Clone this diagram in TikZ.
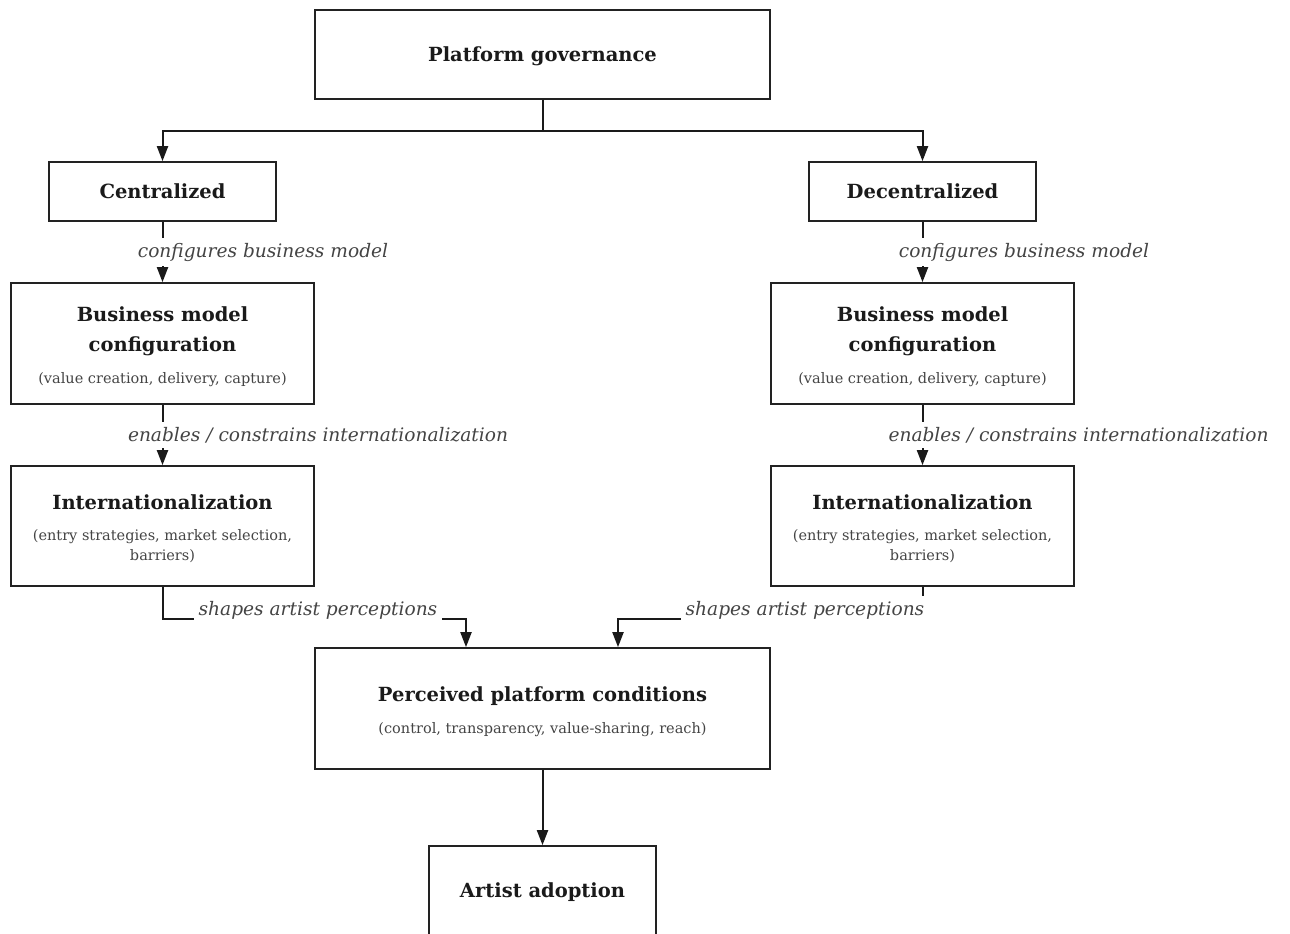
\documentclass[tikz,border=0pt]{standalone}
\usepackage{fontspec}
\setmainfont{DejaVu Serif}
\usetikzlibrary{arrows.meta}
\definecolor{boxline}{HTML}{222222}
\definecolor{txt}{HTML}{1A1A1A}
\definecolor{lbltxt}{HTML}{444444}
\newcommand{\ttl}{\fontsize{19.5}{30}\selectfont\bfseries}
\newcommand{\subt}{\fontsize{14.5}{20}\selectfont\mdseries\color{lbltxt}}
\newcommand{\topstrut}{\rule{0pt}{21pt}}
\begin{document}
\begin{tikzpicture}[x=1pt,y=-1pt,
  box/.style={draw=boxline, line width=1.7pt, fill=white, align=center, inner sep=0pt, text=txt, font=\ttl},
  onebox/.style={box, text depth=0pt},
  conn/.style={draw=txt, line width=2pt},
  arr/.style={conn, -{Triangle[width=11pt,length=15pt]}},
  lbl/.style={fill=white, inner sep=5pt, text=lbltxt, font=\fontsize{18.6}{22}\selectfont\itshape}
]
\useasboundingbox (0,0) rectangle (1290,934);
% nodes
\node[onebox, minimum width=455, minimum height=89] (gov) at (542.5,54.5) {Platform governance};
\node[onebox, minimum width=227, minimum height=59] (cen) at (162.5,191.5) {Centralized};
\node[onebox, minimum width=227, minimum height=59] (dec) at (922.5,191.5) {Decentralized};
\node[box, minimum width=303, minimum height=121] (bmcL) at (162.5,343.5) {\topstrut Business model\\configuration\\[2pt]{\subt (value creation, delivery, capture)}};
\node[box, minimum width=303, minimum height=121] (bmcR) at (922.5,343.5) {\topstrut Business model\\configuration\\[2pt]{\subt (value creation, delivery, capture)}};
\node[box, minimum width=303, minimum height=120] (intL) at (162.5,526) {\topstrut Internationalization\\[1pt]{\subt (entry strategies, market selection,}\\[-10pt]{\subt barriers)}};
\node[box, minimum width=303, minimum height=120] (intR) at (922.5,526) {\topstrut Internationalization\\[1pt]{\subt (entry strategies, market selection,}\\[-10pt]{\subt barriers)}};
\node[box, minimum width=455, minimum height=121] (perc) at (542.5,708.5) {\topstrut Perceived platform conditions\\[2pt]{\subt (control, transparency, value-sharing, reach)}};
\node[onebox, minimum width=227, minimum height=89] (adopt) at (542.5,890.5) {Artist adoption};
% connectors
\draw[conn] (gov.south) -- ++(0,31) coordinate (split);
\draw[arr] (split) -| (cen.north);
\draw[arr] (split) -| (dec.north);
\draw[arr] (cen.south) -- (bmcL.north);
\draw[arr] (dec.south) -- (bmcR.north);
\draw[arr] (bmcL.south) -- (intL.north);
\draw[arr] (bmcR.south) -- (intR.north);
\draw[arr] (intL.south) -- ++(0,32) -| ([xshift=-76.5pt]perc.north);
\draw[arr] (intR.south) -- ++(0,32) -| ([xshift=75.5pt]perc.north);
\draw[arr] (perc.south) -- (adopt.north);
% labels
\node[lbl] (l1) at (263,252) {configures business model};
\node[lbl] (l2) at (1024,252) {configures business model};
\node[lbl] (l3) at (318,435) {enables / constrains internationalization};
\node[lbl] (l4) at (1078.5,435) {enables / constrains internationalization};
\node[lbl] (l5) at (318,610) {shapes artist perceptions};
\node[lbl] (l6) at (805,610) {shapes artist perceptions};
\end{tikzpicture}
\end{document}
